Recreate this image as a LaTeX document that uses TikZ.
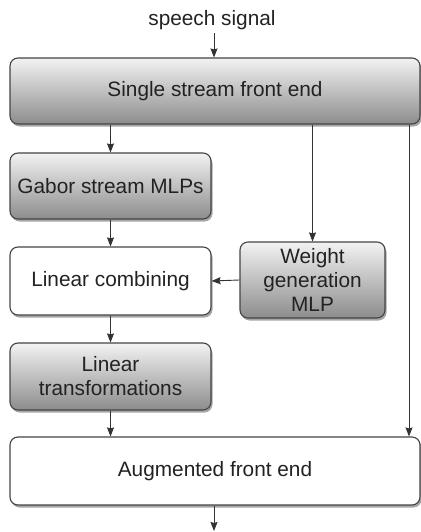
\documentclass[tikz,border=0pt]{standalone}
\usepackage{fontspec}
\setmainfont{Liberation Sans}
\usetikzlibrary{shadows,arrows.meta}
\definecolor{txt}{HTML}{222222}
\definecolor{edge}{HTML}{444444}
\tikzset{
  base/.style={draw=edge, line width=1.1pt, rounded corners=8pt, align=center,
    text=txt, inner sep=0pt,
    drop shadow={shadow xshift=1.5pt, shadow yshift=-2.5pt, opacity=0.35, fill=black}},
  shaded/.style={base, top color=white!95!black, bottom color=black!45},
  plain/.style={base, fill=white},
  conn/.style={draw=black!80, line width=0.9pt, -{Stealth[length=9pt,width=7pt,inset=1pt]}},
}
\begin{document}
\begin{tikzpicture}[x=1pt,y=-1pt,font=\fontsize{20.8}{24}\selectfont]
\useasboundingbox (0,0) rectangle (420,532);
\node[text=txt] (sig) at (212,20) {speech signal};
\node[shaded, minimum width=410, minimum height=66] (sfe) at (215,91) {Single stream front end};
\node[shaded, minimum width=201, minimum height=66] (gab) at (110.5,186) {Gabor stream MLPs};
\node[plain, minimum width=201, minimum height=68] (lc) at (110.5,281) {Linear combining};
\node[shaded, minimum width=145, minimum height=76] (wg) at (312.5,280) {Weight\\generation\\MLP};
\node[shaded, minimum width=201, minimum height=67] (lt) at (110.5,376.5) {Linear\\transformations};
\node[plain, minimum width=410, minimum height=68] (afe) at (215,471) {Augmented front end};
\coordinate (out) at (214,531);
\draw[conn] (sig.south -| 214,0) -- (sfe.north -| 214,0);
\draw[conn] (sfe.south -| gab) -- (gab.north);
\draw[conn] (gab) -- (lc);
\draw[conn] (lc) -- (lt);
\draw[conn] (lt) -- (afe.north -| lt);
\draw[conn] (sfe.south -| wg) -- (wg.north);
\draw[conn] (wg.west) -- (lc.east);
\draw[conn] (sfe.south -| 409,0) -- (afe.north -| 409,0);
\draw[conn] (afe.south -| out) -- (out);
\end{tikzpicture}
\end{document}
